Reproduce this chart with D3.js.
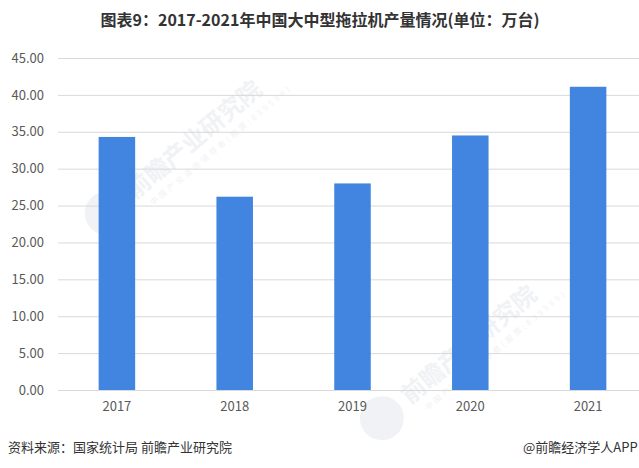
<!DOCTYPE html>
<html>
<head>
<meta charset="utf-8">
<script src="https://cdn.jsdelivr.net/npm/d3@7"></script>
<style>
  body { margin: 0; background: #fff; }
  #container { width: 639px; height: 468px; overflow: hidden; }
  text { font-family: "Microsoft YaHei", "Noto Sans CJK SC", sans-serif; }
</style>
</head>
<body>
<div id="container"></div>
<script>
// chart data
const years = ['2017', '2018', '2019', '2020', '2021'];
const output = [34.3, 26.2, 28.0, 34.5, 41.1];
const yTicks = [0, 5, 10, 15, 20, 25, 30, 35, 40, 45];

const W = 639;
const H = 468;

// plot area
const margin = { top: 58, right: -8, bottom: 78, left: 58 };
const width = W - margin.left - margin.right;
const height = H - margin.top - margin.bottom;

const svg = d3.select('#container')
  .append('svg')
  .attr('width', W)
  .attr('height', H);

// faint watermarks (logo + name)
const marks = [[135, 200], [410, 405]];
marks.forEach(([x, y]) => {
  const g = svg.append('g')
    .attr('transform', `translate(${x}, ${y}) rotate(-40)`)
    .attr('fill', '#f0f2f5');
  g.append('circle')
    .attr('cx', -30)
    .attr('cy', -8)
    .attr('r', 22);
  g.append('text')
    .attr('font-size', 24)
    .attr('font-weight', 'bold')
    .text('前瞻产业研究院');
  g.append('text')
    .attr('y', 16)
    .attr('x', 10)
    .attr('font-size', 8)
    .attr('letter-spacing', 3)
    .text('中国产业咨询领导者(股票:839599)');
});

// title
svg.append('text')
  .attr('x', 320)
  .attr('y', 26)
  .attr('text-anchor', 'middle')
  .attr('font-size', 16)
  .attr('font-weight', 'bold')
  .attr('fill', '#333')
  .text('图表9：2017-2021年中国大中型拖拉机产量情况(单位：万台)');

const plot = svg.append('g')
  .attr('transform', `translate(${margin.left}, ${margin.top})`);

// scales
const x = d3.scaleBand()
  .domain(years)
  .range([0, width])
  .paddingInner(0.69)
  .paddingOuter(0.345);

const y = d3.scaleLinear()
  .domain([0, 45])
  .range([height, 0]);

// gridlines + y labels
const yAxis = d3.axisLeft(y)
  .tickValues(yTicks)
  .tickSize(-width)
  .tickPadding(14)
  .tickFormat(d3.format('.2f'));

plot.append('g')
  .call(yAxis)
  .call(g => g.select('.domain').remove())
  .call(g => g.selectAll('line').attr('stroke', '#d9d9d9'))
  .call(g => g.selectAll('text')
    .attr('font-size', 13)
    .attr('fill', '#595959'));

// bars
plot.selectAll('rect.bar')
  .data(output)
  .enter()
  .append('rect')
  .attr('class', 'bar')
  .attr('x', (d, i) => x(years[i]))
  .attr('y', d => y(d))
  .attr('width', x.bandwidth())
  .attr('height', d => height - y(d))
  .attr('fill', '#4185e0');

// x axis
const xAxis = d3.axisBottom(x)
  .tickSize(0)
  .tickPadding(12);

plot.append('g')
  .attr('transform', `translate(0, ${height})`)
  .call(xAxis)
  .call(g => g.select('.domain').attr('stroke', '#d9d9d9'))
  .call(g => g.selectAll('text')
    .attr('font-size', 13)
    .attr('fill', '#595959'));

// footer
svg.append('text')
  .attr('x', 8)
  .attr('y', 452)
  .attr('font-size', 13)
  .attr('fill', '#333')
  .text('资料来源：国家统计局 前瞻产业研究院');

svg.append('text')
  .attr('x', 523)
  .attr('y', 452)
  .attr('font-size', 13)
  .attr('fill', '#333')
  .text('@前瞻经济学人APP');
</script>
</body>
</html>
